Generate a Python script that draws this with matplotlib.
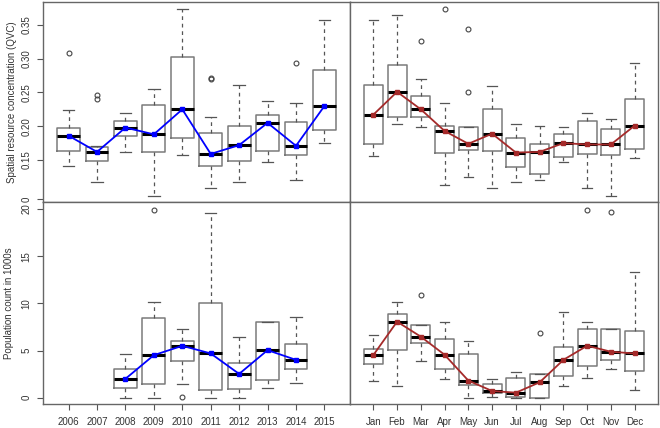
import numpy as np
import matplotlib
matplotlib.use('Agg')
import matplotlib.pyplot as plt

plt.rcParams['font.family'] = ['Liberation Sans', 'DejaVu Sans']

years = ['2006', '2007', '2008', '2009', '2010', '2011', '2012', '2013', '2014', '2015']
months = ['Jan', 'Feb', 'Mar', 'Apr', 'May', 'Jun', 'Jul', 'Aug', 'Sep', 'Oct', 'Nov', 'Dec']

# box stats per category: whisker low, Q1, median, Q3, whisker high
qvc_year = [[0.141, 0.164, 0.186, 0.198, 0.224],
            [0.118, 0.148, 0.162, 0.169, 0.170],
            [0.162, 0.186, 0.198, 0.208, 0.219],
            [0.097, 0.162, 0.188, 0.232, 0.255],
            [0.158, 0.183, 0.225, 0.302, 0.373],
            [0.108, 0.141, 0.159, 0.190, 0.213],
            [0.117, 0.148, 0.172, 0.201, 0.261],
            [0.147, 0.164, 0.205, 0.216, 0.237],
            [0.120, 0.158, 0.171, 0.207, 0.235],
            [0.175, 0.194, 0.230, 0.284, 0.358]]
qvc_year_out = [[0.308], [0.247, 0.241], [], [], [], [0.270, 0.271], [], [], [0.294], []]

qvc_month = [[0.156, 0.174, 0.217, 0.261, 0.358],
             [0.204, 0.213, 0.251, 0.290, 0.365],
             [0.199, 0.214, 0.225, 0.245, 0.270],
             [0.113, 0.161, 0.193, 0.201, 0.234],
             [0.125, 0.165, 0.174, 0.199, 0.199],
             [0.108, 0.163, 0.189, 0.225, 0.259],
             [0.118, 0.140, 0.161, 0.183, 0.204],
             [0.120, 0.129, 0.162, 0.174, 0.201],
             [0.147, 0.155, 0.175, 0.189, 0.199],
             [0.108, 0.159, 0.173, 0.208, 0.219],
             [0.097, 0.157, 0.173, 0.196, 0.211],
             [0.153, 0.167, 0.201, 0.241, 0.293]]
qvc_month_out = [[], [], [0.326], [0.373], [0.344, 0.251], [], [], [], [], [], [], []]

pop_year = [None, None,
            [0.0, 1.03, 2.0, 3.06, 4.62],
            [0.0, 1.42, 4.51, 8.42, 10.16],
            [1.42, 3.87, 5.5, 5.97, 7.25],
            [0.0, 0.85, 4.69, 10.02, 19.6],
            [0.0, 0.96, 2.52, 3.73, 6.47],
            [1.07, 1.88, 5.04, 7.99, 7.99],
            [1.53, 3.06, 4.01, 5.65, 8.56],
            None]
pop_year_out = [[], [], [], [19.93], [0.04], [], [], [], [], []]

pop_month = [[1.74, 3.52, 4.51, 5.19, 6.68],
             [1.28, 5.08, 8.06, 8.88, 10.16],
             [3.87, 5.79, 6.47, 7.74, 7.74],
             [2.02, 3.02, 4.55, 6.22, 8.03],
             [0.0, 1.31, 1.81, 4.58, 5.97],
             [0.04, 0.46, 0.71, 1.49, 2.02],
             [0.0, 0.04, 0.53, 2.13, 2.77],
             [0.0, 0.0, 1.63, 2.52, 2.52],
             [1.24, 2.31, 4.01, 5.33, 9.06],
             [2.13, 3.37, 5.51, 7.25, 8.03],
             [3.06, 3.98, 4.87, 7.25, 7.25],
             [0.82, 2.81, 4.69, 7.03, 13.32]]
pop_month_out = [[], [], [10.94], [], [], [], [], [6.86], [], [19.93], [19.64], []]

W, H = 660, 428
fig = plt.figure(figsize=(6.6, 4.28), dpi=100)
xl, xr, xm = 43, 658, 350
yt, ym, yb = 2, 202, 404
ax_tl = fig.add_axes([xl / W, 1 - ym / H, (xm - xl) / W, (ym - yt) / H])
ax_tr = fig.add_axes([xm / W, 1 - ym / H, (xr - xm) / W, (ym - yt) / H])
ax_bl = fig.add_axes([xl / W, 1 - yb / H, (xm - xl) / W, (yb - ym) / H])
ax_br = fig.add_axes([xm / W, 1 - yb / H, (xr - xm) / W, (yb - ym) / H])

grey = '#7a7a7a'


def draw(ax, stats, outs, line_color):
    bx = []
    pos = []
    meds = []
    for i, s in enumerate(stats):
        if s is None:
            continue
        bx.append(dict(whislo=s[0], q1=s[1], med=s[2], q3=s[3], whishi=s[4], fliers=outs[i]))
        pos.append(i + 1)
        meds.append(s[2])
    ax.bxp(bx, positions=pos, widths=0.8, capwidths=0.4,
           boxprops=dict(color=grey, lw=1.1),
           medianprops=dict(color='black', lw=2.2),
           whiskerprops=dict(color='#555555', lw=0.9, ls=(0, (3, 3))),
           capprops=dict(color='#555555', lw=0.9),
           flierprops=dict(marker='o', mfc='none', mec='#444444', ms=3.5, mew=0.8))
    ax.plot(pos, meds, color=line_color, lw=1.3, marker='s', ms=3.5, zorder=5)
    for sp in ax.spines.values():
        sp.set_color('#666666')
        sp.set_linewidth(1.0)


draw(ax_tl, qvc_year, qvc_year_out, '#0000ff')
draw(ax_tr, qvc_month, qvc_month_out, '#a52a2a')
draw(ax_bl, pop_year, pop_year_out, '#0000ff')
draw(ax_br, pop_month, pop_month_out, '#a52a2a')

for ax in (ax_tl, ax_tr):
    ax.set_ylim(0.0878, 0.384)
for ax in (ax_bl, ax_br):
    ax.set_ylim(-0.67, 20.75)
for ax in (ax_tl, ax_bl):
    ax.set_xlim(0.1, 10.9)
for ax in (ax_tr, ax_br):
    ax.set_xlim(0.02, 12.98)

ax_tl.set_yticks([0.092, 0.15, 0.20, 0.25, 0.30, 0.35])
ax_tl.set_yticklabels(['0', '0.15', '0.20', '0.25', '0.30', '0.35'])
ax_bl.set_yticks([0, 5, 10, 15, 20])
ax_bl.set_yticklabels(['0', '5', '10', '15', '20'])
for ax in (ax_tl, ax_bl):
    ax.tick_params(axis='y', length=4.5, width=0.8, color='#555555', labelsize=7,
                   labelcolor='#333333', pad=4)
    for lab in ax.get_yticklabels():
        lab.set_rotation(90)
        lab.set_va('center')

ax_bl.set_xticks(range(1, 11))
ax_bl.set_xticklabels(years)
ax_br.set_xticks(range(1, 13))
ax_br.set_xticklabels(months)
for ax in (ax_bl, ax_br):
    ax.tick_params(axis='x', length=4.5, width=0.8, color='#555555', labelsize=7,
                   labelcolor='#333333', pad=5)

ax_tl.set_xticks([])
ax_tr.set_xticks([])
ax_tr.set_yticks([])
ax_br.set_yticks([])

ax_tl.set_ylabel('Spatial resource concentration (QVC)', fontsize=7, color='#333333', labelpad=3)
ax_bl.set_ylabel('Population count in 1000s', fontsize=7, color='#333333', labelpad=5)

fig.savefig('out.png', dpi=100)
